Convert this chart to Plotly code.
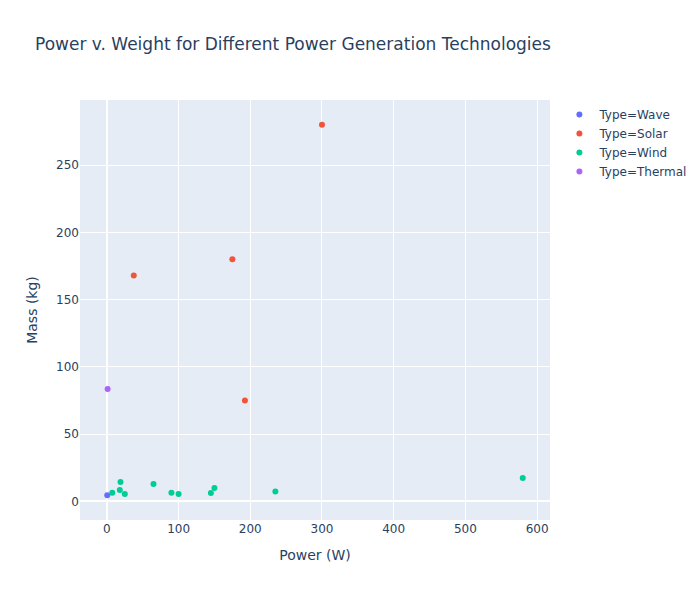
import plotly.graph_objects as go

types = ["Wave", "Solar", "Wind", "Thermal"]
colors = ["#636efa", "#EF553B", "#00cc96", "#ab63fa"]

wave_power = [0.5]
wave_mass = [4.6]

solar_power = [37.5, 175, 192.5, 300]
solar_mass = [168, 180, 75, 280]

wind_power = [7.5, 19, 18, 25, 65, 90, 100, 145, 150, 235, 580]
wind_mass = [6.5, 14.5, 8.5, 5.5, 13, 6.5, 5.5, 6.2, 10, 7.3, 17.5]

thermal_power = [1]
thermal_mass = [83.5]

series = {
    "Wave": (wave_power, wave_mass),
    "Solar": (solar_power, solar_mass),
    "Wind": (wind_power, wind_mass),
    "Thermal": (thermal_power, thermal_mass),
}

fig = go.Figure()
for t, c in zip(types, colors):
    x, y = series[t]
    fig.add_trace(go.Scatter(
        x=x, y=y, mode="markers", name="Type=" + t,
        marker=dict(color=c, symbol="circle"),
    ))

fig.update_layout(
    width=700, height=600,
    template="plotly",
    font=dict(family="DejaVu Sans, Verdana, sans-serif"),
    title=dict(text="Power v. Weight for Different Power Generation Technologies"),
    xaxis_title="Power (W)",
    yaxis_title="Mass (kg)",
    margin=dict(l=80, r=150, t=100, b=80, autoexpand=False),
)

fig.write_html(
    "out.html",
    config={"displayModeBar": False},
    post_script="document.body.style.margin='0';",
)
